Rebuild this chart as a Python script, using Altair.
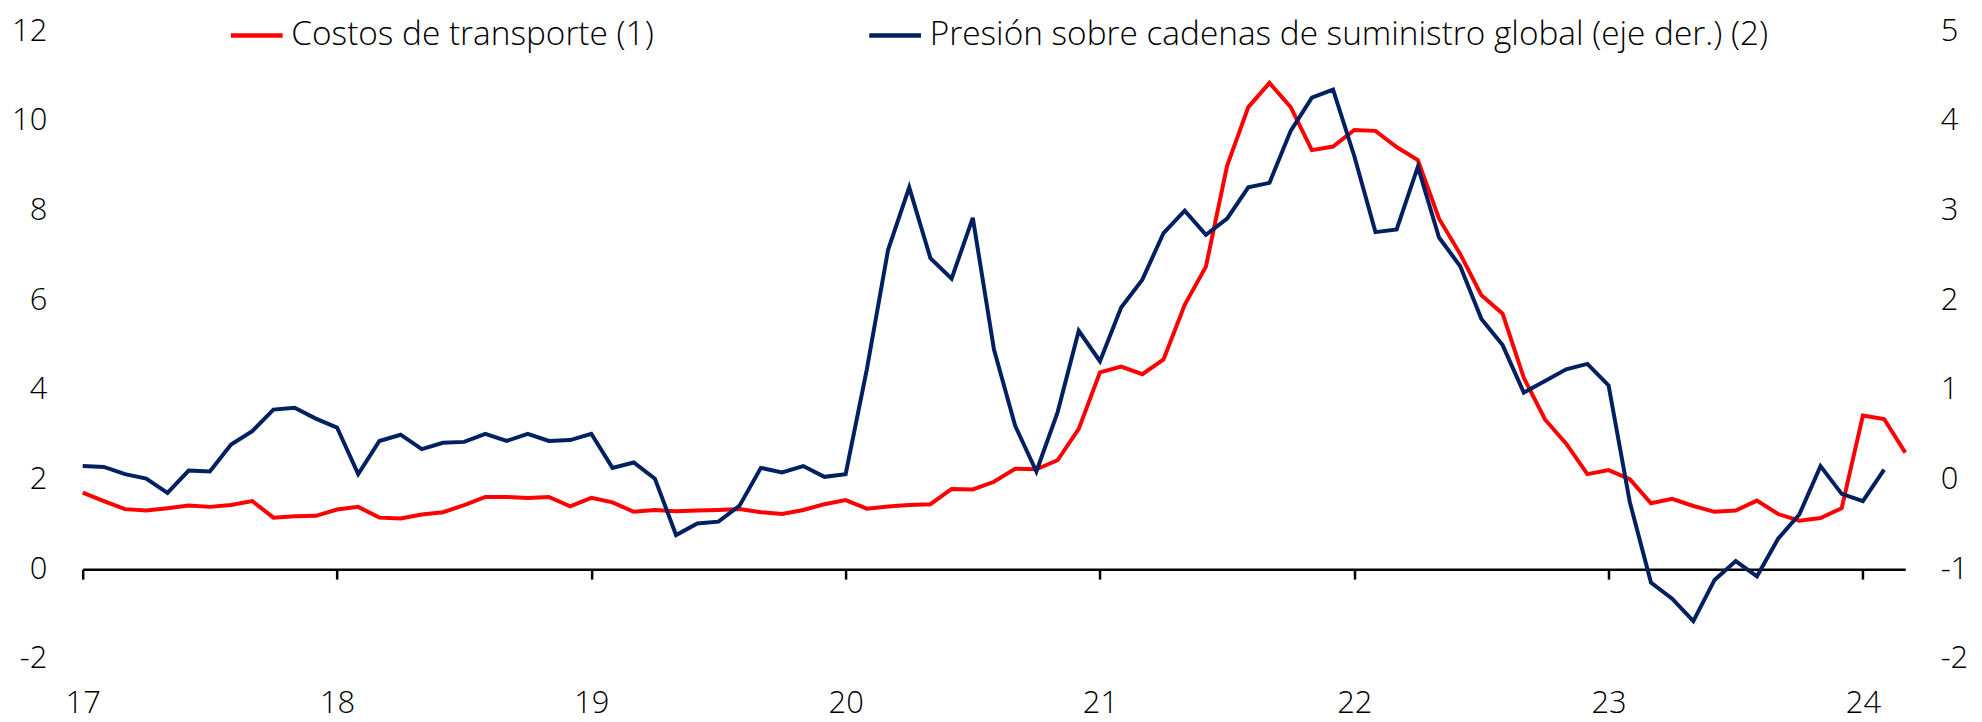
import json
import altair as alt
import pandas as pd

# ---------------- data (monthly, Jan 2017 -> Mar 2024) ----------------
year_labels = ["17", "18", "19", "20", "21", "22", "23", "24"]
series_names = [
    "Costos de transporte (1)",
    "Presión sobre cadenas de suministro global (eje der.) (2)",
]

# left axis
transport_costs = [
    1.71, 1.52, 1.34, 1.31, 1.36, 1.42, 1.39, 1.43, 1.52, 1.15, 1.18, 1.19,
    1.33, 1.39, 1.15, 1.13, 1.22, 1.27, 1.43, 1.61, 1.61, 1.59, 1.61, 1.40,
    1.59, 1.49, 1.28, 1.32, 1.29, 1.31, 1.32, 1.34, 1.27, 1.23, 1.32, 1.45,
    1.54, 1.35, 1.40, 1.43, 1.45, 1.79, 1.78, 1.95, 2.24, 2.23, 2.43, 3.13,
    4.39, 4.52, 4.35, 4.68, 5.90, 6.75, 9.00, 10.31, 10.85, 10.31, 9.35, 9.43,
    9.80, 9.78, 9.42, 9.13, 7.82, 7.03, 6.11, 5.70, 4.27, 3.34, 2.80, 2.12,
    2.21, 2.01, 1.47, 1.57, 1.41, 1.28, 1.31, 1.53, 1.23, 1.08, 1.14, 1.36,
    3.43, 3.35, 2.60,
]

# right axis
supply_pressure = [
    0.15, 0.14, 0.06, 0.01, -0.15, 0.10, 0.09, 0.39, 0.54, 0.78, 0.80, 0.68,
    0.58, 0.06, 0.43, 0.50, 0.34, 0.41, 0.42, 0.51, 0.43, 0.51, 0.43, 0.44,
    0.51, 0.13, 0.19, 0.01, -0.62, -0.49, -0.47, -0.29, 0.13, 0.08, 0.15, 0.03,
    0.06, 1.23, 2.56, 3.26, 2.47, 2.24, 2.92, 1.45, 0.60, 0.09, 0.75, 1.66,
    1.32, 1.92, 2.23, 2.75, 3.00, 2.73, 2.91, 3.26, 3.31, 3.89, 4.26, 4.35,
    3.61, 2.76, 2.79, 3.49, 2.70, 2.38, 1.79, 1.50, 0.97, 1.10, 1.23, 1.29,
    1.05, -0.25, -1.15, -1.33, -1.58, -1.12, -0.91, -1.08, -0.66, -0.39, 0.15, -0.16,
    -0.24, 0.11,
]

left_ticks = [-2, 0, 2, 4, 6, 8, 10, 12]
right_ticks = [-2, -1, 0, 1, 2, 3, 4, 5]

# ---------------- tables ----------------
df_red = pd.DataFrame({
    "m": list(range(len(transport_costs))),
    "v": transport_costs,
    "s": series_names[0],
})
df_blue = pd.DataFrame({
    "m": list(range(len(supply_pressure))),
    "v": supply_pressure,
    "s": series_names[1],
})

FONT = "Open Sans"
FS = 31
LFS = 33.5
FW = 300
PLOT_H = 630
n_months = len(transport_costs) - 1
year_ticks = [12 * i for i in range(len(year_labels))]
label_expr = json.dumps(year_labels).replace('"', "'") + "[round(datum.value/12)]"
num_expr = "'' + datum.value"
zero_offset = -PLOT_H * 2 / 14  # axis line sits at value 0 of the left scale

x_scale = alt.Scale(domain=[0, n_months], nice=False, zero=False)
color_scale = alt.Scale(domain=series_names, range=["#FF0000", "#002060"])

x_labels_axis = alt.Axis(
    orient="bottom", values=year_ticks, labelExpr=label_expr, domain=False,
    ticks=False, tickSize=0, grid=False, labelFontSize=FS, labelFont=FONT,
    labelFontWeight=FW, labelColor="#000000", labelPadding=45,
    labelBaseline="middle", labelFlush=False, title=None,
)
x_zero_axis = alt.Axis(
    orient="bottom", values=year_ticks, labels=False, domain=True,
    domainColor="#000000", domainWidth=2.5, ticks=True, tickColor="#000000",
    tickWidth=2.5, tickSize=10, grid=False, offset=zero_offset, title=None,
)

red = alt.Chart(df_red).mark_line(strokeWidth=4).encode(
    x=alt.X("m:Q", scale=x_scale, axis=x_labels_axis),
    y=alt.Y(
        "v:Q",
        scale=alt.Scale(domain=[-2, 12], nice=False, zero=False),
        axis=alt.Axis(
            values=left_ticks, orient="left", domain=False, ticks=False,
            tickSize=0, grid=False, labelFontSize=FS, labelFont=FONT,
            labelFontWeight=FW, labelColor="#000000", labelPadding=36,
            labelExpr=num_expr, title=None,
        ),
    ),
    color=alt.Color(
        "s:N", scale=color_scale,
        legend=alt.Legend(
            title=None, orient="none", legendX=158, legendY=-13,
            direction="horizontal", symbolType="M-2,0L2,0", symbolSize=676,
            symbolStrokeWidth=4.5, labelFontSize=LFS, labelFont=FONT,
            labelFontWeight=FW, labelColor="#000000", labelOffset=18,
            columnPadding=206, labelLimit=1500, padding=0,
        ),
    ),
)

blue = alt.Chart(df_blue).mark_line(strokeWidth=4).encode(
    x=alt.X("m:Q", scale=x_scale, axis=x_zero_axis),
    y=alt.Y(
        "v:Q",
        scale=alt.Scale(domain=[-2, 5], nice=False, zero=False),
        axis=alt.Axis(
            values=right_ticks, orient="right", domain=False, ticks=False,
            tickSize=0, grid=False, labelFontSize=FS, labelFont=FONT,
            labelFontWeight=FW, labelColor="#000000", labelPadding=35,
            labelExpr=num_expr, title=None,
        ),
    ),
    color=alt.Color("s:N", scale=color_scale),
)

chart = (
    alt.layer(red, blue)
    .resolve_scale(y="independent")
    .resolve_axis(x="independent", y="independent")
    .properties(
        width=1830, height=PLOT_H,
        autosize=alt.AutoSizeParams(type="none"),
        padding={"left": 75, "top": 22, "right": 69, "bottom": 62},
        background="white",
    )
    .configure_view(stroke=None)
)

chart.save("out.html", embed_options={"renderer": "svg", "actions": False})
